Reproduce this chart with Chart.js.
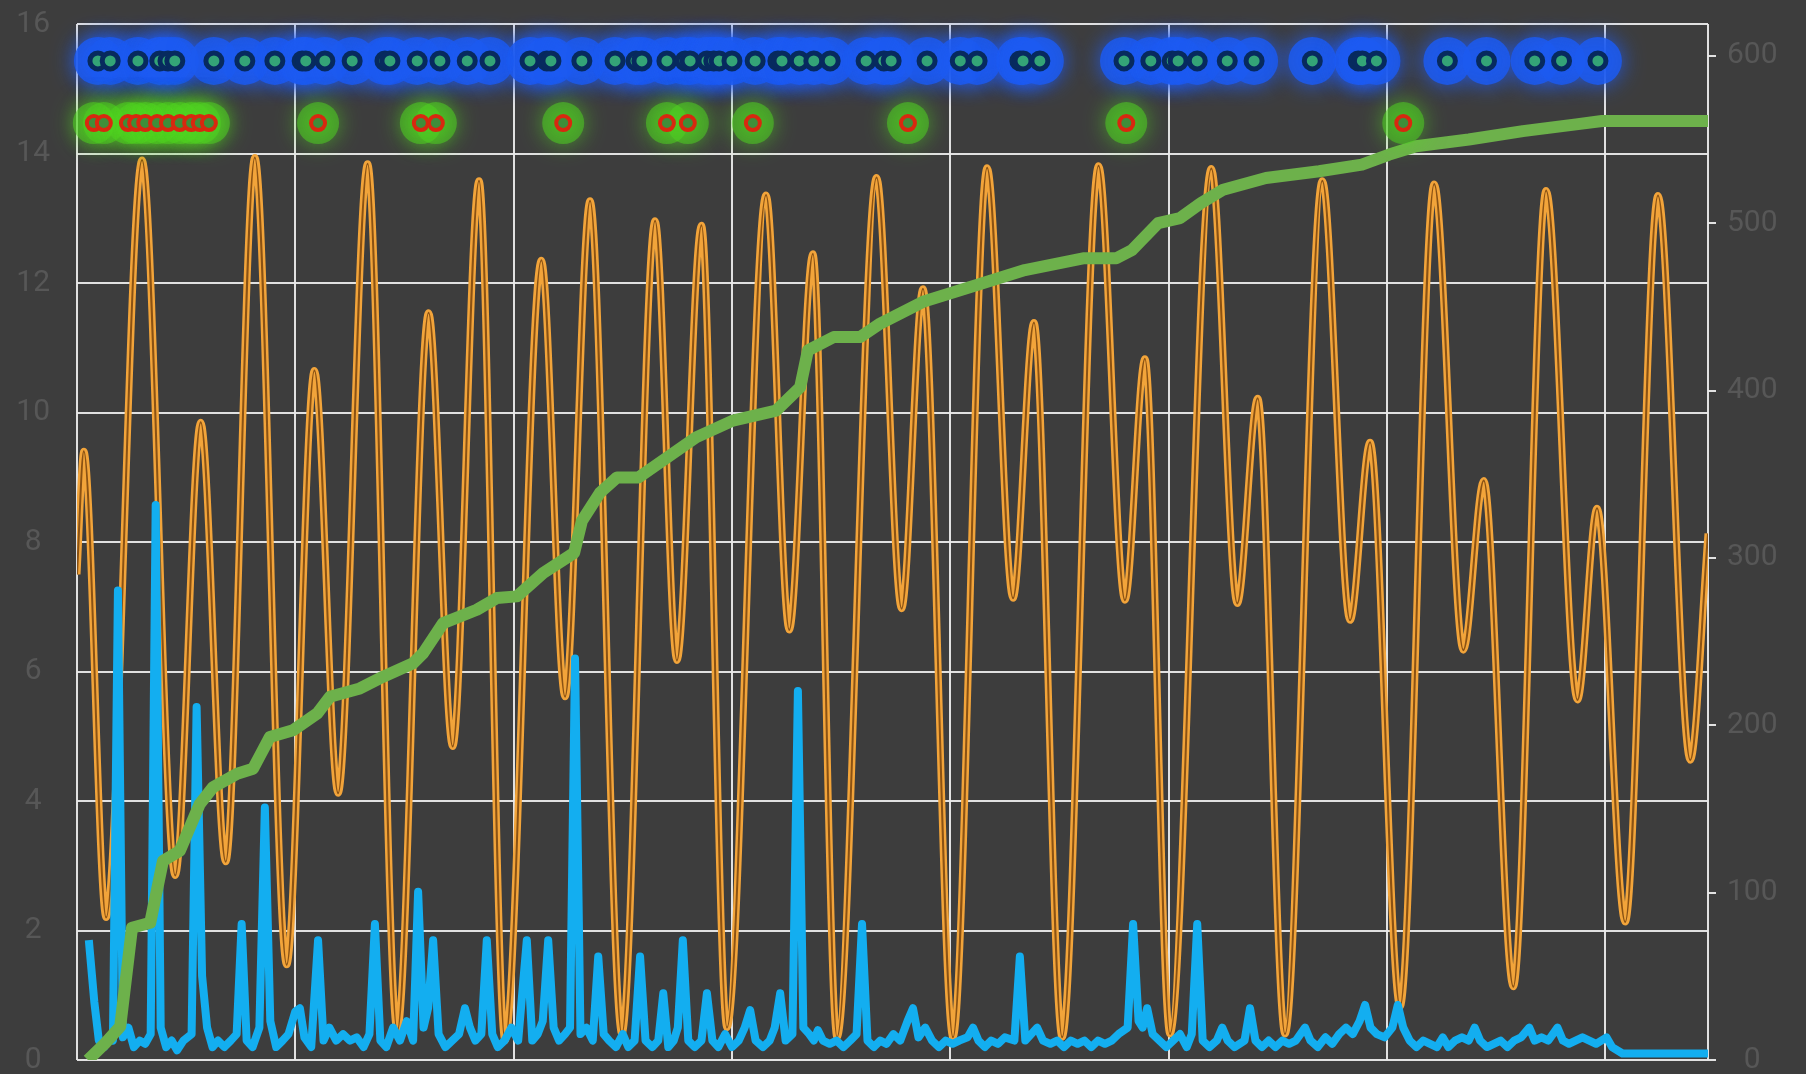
<!DOCTYPE html>
<html>
<head>
<meta charset="utf-8">
<script src="https://cdn.jsdelivr.net/npm/chart.js@4.4.1/dist/chart.umd.min.js"></script>
<style>
html,body{margin:0;padding:0;background:#3d3d3d;}
canvas{display:block;background:#3d3d3d;}
</style>
</head>
<body>
<canvas id="c" width="1806" height="1074"></canvas>
<script>
// ---------- tick / grid positions ----------
const xGridHours = [0, 48, 96, 144, 192, 240, 288, 336, 358.6];
const leftTicks = [0, 2, 4, 6, 8, 10, 12, 14, 16];
const rightTicks = [0, 100, 200, 300, 400, 500, 600];

// ---------- orange series (left axis): turning points ----------
const tideHours = [0,1.5,6.4,14.3,21.6,27.2,32.7,39.1,46.1,52.2,57.4,63.9,70.4,77.3,82.6,88.4,94.1,102.1,107.3,112.8,119.8,127.1,131.9,137.3,142.9,151.5,156.6,161.8,167.1,175.8,181.3,186.0,192.6,200.1,205.8,210.4,216.6,224.6,230.4,234.8,240.3,249.4,255.1,259.6,265.6,273.8,279.9,284.3,290.9,298.4,304.8,309.3,315.8,323.0,329.9,334.2,340.4,347.6,354.7,358.6];
const tideLevels = [7.5,9.4,2.2,13.9,2.85,9.85,3.06,13.94,1.47,10.65,4.12,13.84,0.44,11.54,4.84,13.58,0.3,12.35,5.61,13.27,0.4,12.96,6.17,12.89,0.5,13.36,6.64,12.45,0.35,13.63,6.97,11.91,0.35,13.78,7.13,11.39,0.35,13.81,7.1,10.83,0.4,13.77,7.05,10.22,0.4,13.58,6.79,9.54,0.82,13.53,6.33,8.95,1.13,13.43,5.56,8.52,2.13,13.35,4.63,8.13];

// ---------- blue series (left axis): [hour, value] ----------
const rainSeries = [[2.6,1.85],[3.8,0.9],[4.8,0.3],[6.0,0.2],[7.2,0.35],[7.9,0.3],[9.0,7.25],[10.1,0.35],[11.3,0.5],[12.5,0.2],[13.8,0.3],[15.0,0.25],[16.2,0.4],[17.3,8.57],[18.4,0.5],[19.6,0.2],[20.8,0.3],[22.0,0.15],[23.4,0.3],[25.2,0.4],[26.3,5.45],[27.5,1.3],[28.6,0.5],[29.8,0.2],[31.0,0.3],[32.4,0.2],[33.8,0.3],[35.1,0.4],[36.2,2.1],[37.3,0.3],[38.6,0.2],[40.1,0.5],[41.3,3.9],[42.5,0.6],[43.8,0.2],[45.2,0.3],[46.5,0.4],[48.0,0.75],[49.0,0.8],[50.0,0.35],[51.5,0.2],[53.0,1.85],[54.2,0.3],[55.5,0.5],[57.0,0.3],[58.5,0.4],[60.0,0.3],[61.5,0.35],[63.0,0.2],[64.3,0.4],[65.5,2.1],[66.7,0.3],[68.0,0.2],[69.5,0.5],[71.0,0.3],[72.5,0.6],[73.9,0.3],[75.0,2.6],[76.2,0.5],[77.2,0.8],[78.3,1.85],[79.5,0.4],[81.0,0.2],[82.5,0.3],[84.0,0.4],[85.3,0.8],[86.4,0.5],[87.6,0.3],[88.9,0.4],[90.1,1.85],[91.3,0.4],[92.5,0.2],[94.0,0.3],[95.5,0.5],[97.0,0.3],[98.9,1.85],[100.1,0.3],[101.3,0.4],[102.4,0.6],[103.6,1.85],[104.8,0.5],[106.0,0.3],[107.3,0.4],[108.4,0.5],[109.5,6.2],[110.7,0.4],[112.0,0.5],[113.4,0.3],[114.6,1.6],[115.8,0.4],[117.0,0.3],[118.5,0.2],[120.0,0.4],[121.2,0.2],[122.6,0.3],[123.8,1.6],[125.0,0.3],[126.5,0.2],[127.8,0.3],[128.9,1.03],[130.0,0.2],[131.2,0.3],[132.1,0.5],[133.2,1.85],[134.4,0.3],[135.8,0.2],[137.3,0.3],[138.5,1.03],[139.7,0.3],[141.0,0.2],[142.5,0.4],[144.0,0.2],[145.5,0.3],[146.8,0.5],[148.0,0.77],[149.2,0.3],[150.8,0.2],[152.3,0.3],[153.4,0.5],[154.6,1.03],[155.8,0.3],[157.3,0.4],[158.5,5.7],[159.7,0.5],[161.0,0.4],[162.0,0.3],[162.9,0.46],[164.0,0.3],[165.5,0.25],[167.0,0.3],[168.5,0.2],[170.0,0.3],[171.4,0.4],[172.6,2.1],[173.8,0.3],[175.2,0.2],[176.6,0.3],[178.0,0.25],[179.5,0.4],[181.0,0.3],[182.6,0.6],[183.8,0.8],[185.0,0.35],[186.5,0.5],[188.0,0.3],[189.5,0.2],[191.0,0.3],[192.5,0.25],[194.0,0.3],[195.8,0.35],[197.0,0.5],[198.2,0.3],[199.6,0.2],[201.0,0.3],[202.5,0.25],[204.0,0.35],[206.1,0.3],[207.3,1.6],[208.5,0.3],[209.8,0.4],[211.1,0.5],[212.4,0.3],[214.0,0.25],[215.5,0.3],[217.0,0.2],[218.5,0.3],[220.0,0.25],[221.5,0.3],[223.0,0.2],[224.5,0.3],[226.0,0.25],[227.5,0.3],[229.0,0.4],[231.0,0.5],[232.2,2.1],[233.4,0.6],[234.3,0.5],[235.3,0.8],[236.5,0.4],[238.0,0.3],[239.5,0.2],[241.0,0.3],[242.5,0.4],[244.0,0.2],[245.1,0.4],[246.3,2.1],[247.5,0.3],[249.0,0.2],[250.6,0.3],[251.8,0.5],[253.0,0.3],[254.5,0.2],[256.7,0.3],[257.9,0.8],[259.1,0.3],[260.5,0.2],[262.0,0.3],[263.5,0.2],[265.0,0.3],[266.5,0.25],[268.0,0.3],[270.0,0.5],[271.2,0.3],[272.8,0.2],[274.5,0.35],[276.0,0.25],[277.5,0.4],[279.0,0.5],[280.5,0.4],[282.0,0.6],[283.2,0.85],[284.4,0.5],[285.8,0.4],[287.5,0.35],[289.2,0.5],[290.4,0.85],[291.6,0.5],[293.0,0.3],[294.5,0.2],[296.0,0.3],[297.5,0.25],[299.0,0.2],[300.3,0.35],[301.5,0.2],[303.0,0.3],[304.5,0.35],[306.0,0.3],[307.3,0.5],[308.5,0.3],[310.0,0.2],[311.5,0.25],[313.0,0.3],[314.5,0.2],[316.0,0.3],[317.5,0.35],[319.3,0.5],[320.5,0.3],[322.0,0.35],[323.5,0.3],[325.5,0.5],[326.7,0.3],[328.0,0.25],[329.5,0.3],[331.0,0.35],[332.5,0.3],[334.0,0.25],[336.3,0.35],[337.5,0.2],[339.8,0.1],[358.6,0.1]];

// ---------- green series (right axis): [hour, cumulative value] ----------
const cumulativeSeries = [[2.4,0],[6.2,10],[9.5,20],[12.1,79],[16.1,82],[18.9,119],[22.6,125],[27.0,153],[29.9,163],[35.2,171],[38.7,174],[42.4,193],[47.5,197],[52.8,207],[55.6,217],[62.2,222],[67.3,229],[73.9,237],[76.1,243],[80.5,261],[87.9,269],[92.3,276],[96.7,277],[102.5,291],[109.3,303],[111.0,322],[115.0,339],[118.7,348],[123.4,348],[136.1,372],[144.2,382],[153.7,388],[159.0,402],[160.7,424],[166.4,432],[172.2,432],[176.6,440],[186.0,453],[196.6,462],[208.4,472],[221.2,479],[228.5,479],[232.0,484],[237.7,500],[242.5,503],[247.1,512],[252.0,520],[261.4,527],[273.1,531],[282.5,535],[288.5,541],[294.4,546],[306.0,550],[317.9,555],[329.6,559],[335.3,561],[358.6,561]];

// ---------- event markers (hours) ----------
const eventsUpperHours = [4.6,7.3,13.4,18.2,20.0,21.5,30.1,36.9,43.5,49.5,50.3,54.5,60.5,67.7,68.8,74.8,79.8,85.8,90.8,99.6,103.3,104.2,111.0,118.3,122.9,124.2,129.7,133.7,134.8,138.5,140.0,141.2,144.0,149.1,154.1,155.0,158.8,162.0,165.6,173.5,177.4,179.0,186.9,194.2,197.9,207.3,208.0,211.7,230.2,236.1,240.8,242.1,246.3,252.9,258.8,271.6,281.7,282.6,285.7,301.3,309.9,320.5,326.4,334.4];
const eventsLowerHours = [3.7,5.9,11.2,13.0,15.0,17.6,20.0,22.6,25.1,27.0,29.0,53.0,75.6,78.9,106.9,129.7,134.3,148.6,182.7,230.7,291.6];
const eventsUpperLevel = 15.43;
const eventsLowerLevel = 14.47;

// ---------- helpers ----------
const pts = (hs, vs) => hs.map((h, i) => ({x: h, y: vs[i]}));
const pairPts = arr => arr.map(([x, y]) => ({x, y}));
const rowPts = (hs, lvl) => hs.map(h => ({x: h, y: lvl}));

const glowPlugin = {
  id: 'glow',
  beforeDatasetDraw(chart, args) {
    const ds = chart.data.datasets[args.index];
    if (ds.glowColor) {
      chart.ctx.save();
      chart.ctx.shadowColor = ds.glowColor;
      chart.ctx.shadowBlur = ds.glowBlur || 10;
    }
  },
  afterDatasetDraw(chart, args) {
    const ds = chart.data.datasets[args.index];
    if (ds.glowColor) chart.ctx.restore();
  }
};

const GRID = 'rgba(234,234,234,0.95)';
const LABEL = '#575757';
const FONT = { family: 'Roboto', size: 30 };
const noPad = s => { s.paddingTop = 0; s.paddingBottom = 0; };

new Chart(document.getElementById('c'), {
  type: 'line',
  data: {
    datasets: [
      { label: 'lowerEvents', data: rowPts(eventsLowerHours, eventsLowerLevel), yAxisID: 'y', showLine: false,
        pointRadius: 7, pointBorderWidth: 4, pointBorderColor: '#d8280f', pointBackgroundColor: '#3f8e3a', order: 0, clip: false },
      { label: 'lowerGlow', data: rowPts(eventsLowerHours, eventsLowerLevel), yAxisID: 'y', showLine: false,
        pointRadius: 21, pointBorderWidth: 0, pointBackgroundColor: 'rgba(78,205,34,0.55)',
        glowColor: 'rgba(84,225,30,1)', glowBlur: 22, order: 1, clip: false },
      { label: 'upperEvents', data: rowPts(eventsUpperHours, eventsUpperLevel), yAxisID: 'y', showLine: false,
        pointRadius: 8, pointBorderWidth: 5, pointBorderColor: '#072a5e', pointBackgroundColor: '#34a477', order: 2, clip: false },
      { label: 'upperGlow', data: rowPts(eventsUpperHours, eventsUpperLevel), yAxisID: 'y', showLine: false,
        pointRadius: 24, pointBorderWidth: 0, pointBackgroundColor: 'rgba(28,90,240,0.85)',
        glowColor: 'rgba(30,92,248,1)', glowBlur: 22, order: 3, clip: false },
      { label: 'cumulative', data: pairPts(cumulativeSeries), yAxisID: 'y2',
        borderColor: '#6db14b', borderWidth: 12, pointRadius: 0, tension: 0, order: 4, borderJoinStyle: 'round' },
      { label: 'rain', data: pairPts(rainSeries), yAxisID: 'y',
        borderColor: '#13aef0', borderWidth: 8, pointRadius: 0, tension: 0, order: 5, borderJoinStyle: 'round' },
      { label: 'tideCore', data: pts(tideHours, tideLevels), yAxisID: 'y',
        borderColor: '#8a5214', borderWidth: 2, pointRadius: 0, cubicInterpolationMode: 'monotone', order: 6 },
      { label: 'tide', data: pts(tideHours, tideLevels), yAxisID: 'y',
        borderColor: '#f2a43a', borderWidth: 7, pointRadius: 0, cubicInterpolationMode: 'monotone', order: 7 }
    ]
  },
  options: {
    responsive: false,
    animation: false,
    devicePixelRatio: 1,
    events: [],
    layout: { autoPadding: false, padding: { top: 24, left: 0, right: 0, bottom: 0 } },
    plugins: { legend: { display: false }, tooltip: { enabled: false } },
    scales: {
      x: {
        type: 'linear', min: 0, max: 358.6,
        afterBuildTicks: s => { s.ticks = xGridHours.map(v => ({ value: v })); },
        afterFit: s => { s.height = 14; s.paddingLeft = 0; s.paddingRight = 0; },
        ticks: { display: false },
        grid: { color: GRID, lineWidth: 2, drawTicks: false },
        border: { display: false }
      },
      y: {
        position: 'left', min: 0, max: 16,
        afterBuildTicks: s => { s.ticks = leftTicks.map(v => ({ value: v })); },
        afterFit: s => { s.width = 77; noPad(s); },
        ticks: { color: LABEL, font: FONT, padding: 27, crossAlign: 'center' },
        grid: { color: GRID, lineWidth: 2, drawTicks: false },
        border: { display: false }
      },
      y2: {
        position: 'right', min: 0, max: 619,
        afterBuildTicks: s => { s.ticks = rightTicks.map(v => ({ value: v })); },
        afterFit: s => { s.width = 98; noPad(s); },
        ticks: { color: LABEL, font: FONT, padding: 11, crossAlign: 'center' },
        grid: { drawOnChartArea: false, drawTicks: true, tickLength: 8, color: GRID, lineWidth: 2 },
        border: { display: false }
      }
    }
  },
  plugins: [glowPlugin]
});
</script>
</body>
</html>
